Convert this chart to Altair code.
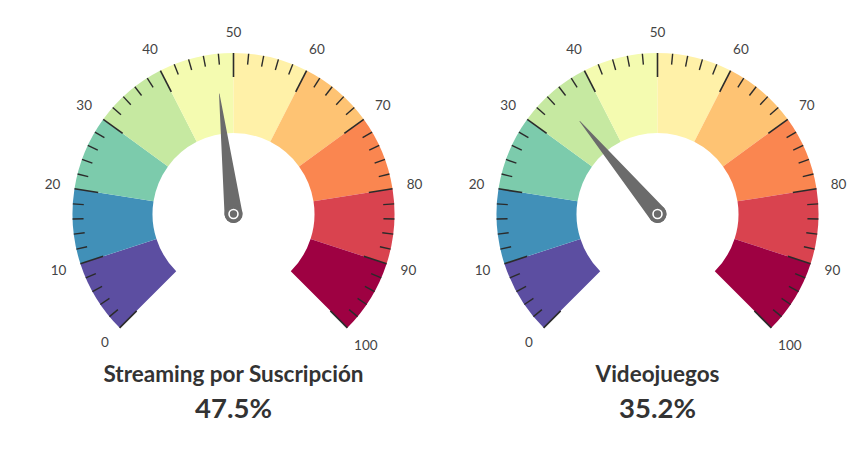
import math
import altair as alt
import pandas as pd

# ---- data ----
gauge_titles = ["Streaming por Suscripción", "Videojuegos"]
gauge_values = [47.5, 35.2]
band_edges = [0, 10, 20, 30, 40, 50, 60, 70, 80, 90, 100]
band_colors = ["#5c4ea1", "#4190b8", "#7ccbac", "#c6e9a1", "#f4fbb0",
               "#fff1a8", "#fec373", "#fa8650", "#d9434f", "#9e0142"]
tick_values = list(range(0, 101, 2))
label_values = list(range(0, 101, 10))

# ---- layout constants ----
W, H = 864, 474
CX0, DCX, CY = 233.5, 424, 214
R_OUT, R_IN = 161, 81
R_LABEL = 175
A0, A1 = -135.0, 135.0
LABEL_FS = 13.5

def ang(v):
    return math.radians(A0 + (A1 - A0) * v / 100.0)

bands = pd.DataFrame([
    {"g": g, "cx": CX0 + g * DCX, "cy": CY, "start": band_edges[k],
     "end": band_edges[k + 1], "color": band_colors[k]}
    for g in range(len(gauge_titles)) for k in range(len(band_colors))
])

ticks = []
for g in range(len(gauge_titles)):
    cx = CX0 + g * DCX
    for v in tick_values:
        major = v % 10 == 0
        a = ang(v)
        r1 = R_OUT
        r2 = R_OUT - (24 if major else 11)
        ticks.append({"g": g, "v": v, "major": major,
                      "x": cx + r1 * math.sin(a), "y": CY - r1 * math.cos(a),
                      "x2": cx + r2 * math.sin(a), "y2": CY - r2 * math.cos(a),
                      "sw": 1.6 if major else 1.4})
ticks = pd.DataFrame(ticks)

labels = []
for g in range(len(gauge_titles)):
    cx = CX0 + g * DCX
    for v in label_values:
        a = ang(v)
        t = str(v)
        w = 0.55 * LABEL_FS * len(t)
        h = 0.9 * LABEL_FS
        r = R_LABEL + abs(math.sin(a)) * w / 2 + abs(math.cos(a)) * h / 2
        labels.append({"g": g, "text": t,
                       "x": cx + r * math.sin(a), "y": CY - r * math.cos(a)})
labels = pd.DataFrame(labels)

needle = []
for g, val in enumerate(gauge_values):
    cx = CX0 + g * DCX
    a = ang(val)
    needle.append({"g": g, "ord": 0, "x": cx, "y": CY, "w": 18})
    needle.append({"g": g, "ord": 1, "x": cx + 121 * math.sin(a), "y": CY - 121 * math.cos(a), "w": 0.5})
needle = pd.DataFrame(needle)

hubs = pd.DataFrame([{"g": g, "x": CX0 + g * DCX, "y": CY} for g in range(len(gauge_titles))])

titles = pd.DataFrame([
    {"g": g, "x": CX0 + g * DCX, "title": t, "val": f"{v:.1f}%"}
    for g, (t, v) in enumerate(zip(gauge_titles, gauge_values))
])

FONT = "Lato"

theta_scale = alt.Scale(domain=[0, 100], range=[math.radians(A0), math.radians(A1)])

arcs = alt.Chart(bands).mark_arc(radius=R_OUT, radius2=R_IN, stroke=None).encode(
    x=alt.X("cx:Q", scale=None, axis=None),
    y=alt.Y("cy:Q", scale=None, axis=None),
    theta=alt.Theta("start:Q", scale=theta_scale),
    theta2="end:Q",
    fill=alt.Fill("color:N", scale=None),
)

tick_layer = alt.Chart(ticks).mark_rule(color="#2b2b2b").encode(
    x=alt.X("x:Q", scale=None, axis=None),
    y=alt.Y("y:Q", scale=None, axis=None),
    x2="x2:Q",
    y2="y2:Q",
    strokeWidth=alt.StrokeWidth("sw:Q", scale=None),
)

label_layer = alt.Chart(labels).mark_text(
    font=FONT, fontSize=LABEL_FS, color="#444444", align="center", baseline="middle"
).encode(
    x=alt.X("x:Q", scale=None, axis=None),
    y=alt.Y("y:Q", scale=None, axis=None),
    text="text:N",
)

needle_layer = alt.Chart(needle).mark_trail(color="#6b6b6b").encode(
    x=alt.X("x:Q", scale=None, axis=None),
    y=alt.Y("y:Q", scale=None, axis=None),
    size=alt.Size("w:Q", scale=None),
    detail="g:N",
    order="ord:Q",
)

hub_outer = alt.Chart(hubs).mark_circle(color="#6b6b6b", opacity=1, size=324).encode(
    x=alt.X("x:Q", scale=None, axis=None),
    y=alt.Y("y:Q", scale=None, axis=None),
)
hub_inner = alt.Chart(hubs).mark_point(
    shape="circle", filled=False, fill="#6b6b6b", stroke="white", strokeWidth=1.6,
    size=80, opacity=1
).encode(
    x=alt.X("x:Q", scale=None, axis=None),
    y=alt.Y("y:Q", scale=None, axis=None),
)

title_layer = alt.Chart(titles).mark_text(
    font=FONT, fontSize=22.5, fontWeight="bold", color="#333333",
    align="center", baseline="alphabetic"
).encode(
    x=alt.X("x:Q", scale=None, axis=None),
    y=alt.value(382),
    text="title:N",
)
value_layer = alt.Chart(titles).mark_text(
    font=FONT, fontSize=27.5, fontWeight="bold", color="#333333",
    align="center", baseline="alphabetic"
).encode(
    x=alt.X("x:Q", scale=None, axis=None),
    y=alt.value(418),
    text="val:N",
)

chart = alt.layer(
    arcs, tick_layer, label_layer, needle_layer, hub_outer, hub_inner,
    title_layer, value_layer
).properties(
    width=W, height=H, padding=0, autosize=alt.AutoSizeParams(type="none")
).configure_view(stroke=None)

chart.save("out.html", embed_options={"renderer": "svg", "actions": False})
